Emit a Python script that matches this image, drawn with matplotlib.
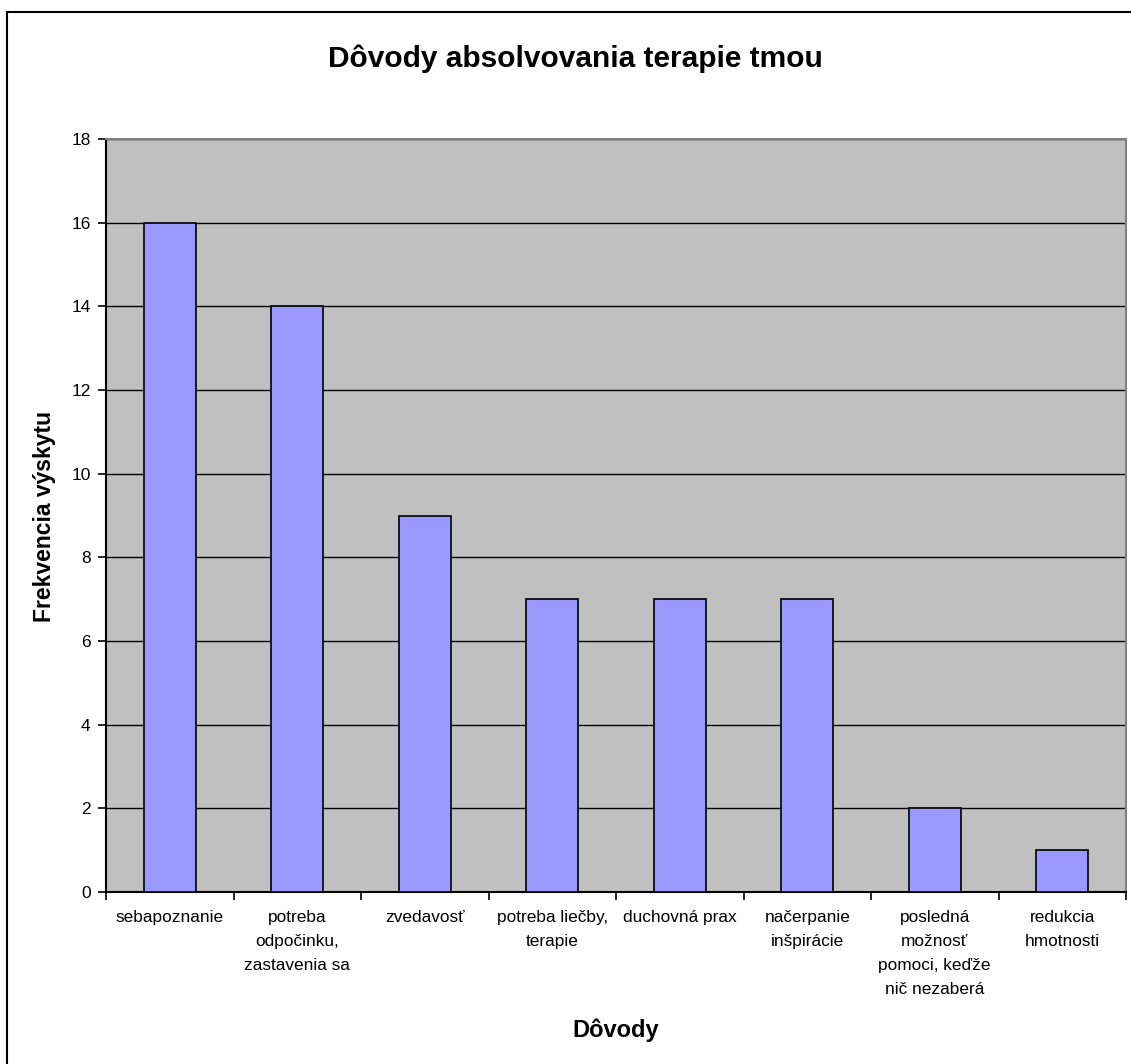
import matplotlib
matplotlib.use("Agg")
import matplotlib.pyplot as plt
from matplotlib.patches import Rectangle

categories = ["sebapoznanie", "potreba\nodpočinku,\nzastavenia sa", "zvedavosť",
              "potreba liečby,\nterapie", "duchovná prax", "načerpanie\ninšpirácie",
              "posledná\nmožnosť\npomoci, keďže\nnič nezaberá", "redukcia\nhmotnosti"]
values = [16, 14, 9, 7, 7, 7, 2, 1]
yticks = [0, 2, 4, 6, 8, 10, 12, 14, 16, 18]

plt.rcParams['font.family'] = ['Liberation Sans', 'DejaVu Sans']

W, H = 1131, 1064
fig = plt.figure(figsize=(W/100, H/100), dpi=100)
fig.patch.set_facecolor('white')

# outer border
fig.patches.append(Rectangle((7/W, -0.01), 1.02, (H-12)/H + 0.01, transform=fig.transFigure,
                             fill=False, edgecolor='black', linewidth=1.5, zorder=10))

left, right, top, bottom = 106, 1126, 139, 892
ax = fig.add_axes([left/W, (H-bottom)/H, (right-left)/W, (bottom-top)/H])
ax.set_facecolor('#C0C0C0')

x = list(range(len(categories)))
ax.bar(x, values, width=0.41, color='#9999FF', edgecolor='black', linewidth=1.2, zorder=3)

ax.set_xlim(-0.5, len(categories)-0.5)
ax.set_ylim(0, 18)
ax.set_yticks(yticks)
ax.yaxis.grid(True, color='black', linewidth=1.0, zorder=1)
ax.set_axisbelow(True)

ax.set_xticks([i - 0.5 for i in range(len(categories)+1)], minor=False)
ax.set_xticklabels([])
ax.set_xticks(x, minor=True)
ax.set_xticklabels(categories, minor=True, fontsize=12.4, linespacing=1.74, va='top')
ax.tick_params(axis='x', which='minor', length=0, pad=13)
ax.tick_params(axis='x', which='major', length=6, direction='out', width=1.2, color='black')
ax.tick_params(axis='y', length=6, direction='out', width=1.2, labelsize=12.5, pad=5)

for s in ['left', 'bottom']:
    ax.spines[s].set_color('black')
    ax.spines[s].set_linewidth(1.5)
for s in ['top', 'right']:
    ax.spines[s].set_color('#808080')
    ax.spines[s].set_linewidth(1.5)

fig.text(575/W, 1 - 59/H, "Dôvody absolvovania terapie tmou", ha='center', va='center',
         fontsize=21.5, fontweight='bold')
fig.text(44/W, 1 - 516/H, "Frekvencia výskytu", ha='center', va='center', rotation=90,
         fontsize=16.5, fontweight='bold')
fig.text(616/W, 1 - 1030/H, "Dôvody", ha='center', va='center', fontsize=17, fontweight='bold')

fig.savefig("out.png", dpi=100)
